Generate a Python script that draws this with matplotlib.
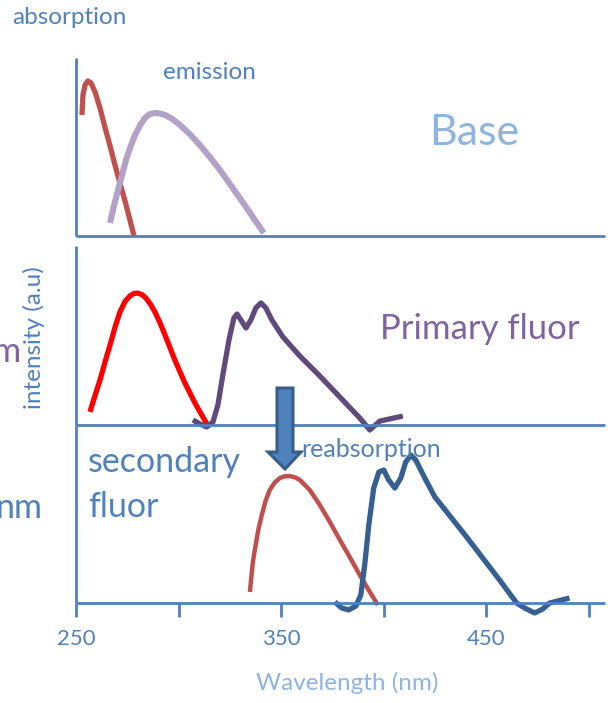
import matplotlib
matplotlib.use("Agg")
import matplotlib.pyplot as plt
from matplotlib.patches import Polygon

plt.rcParams['font.family'] = ['Lato', 'DejaVu Sans']

# ---------------- data (wavelength nm, normalised intensity) ----------------
base_abs_x = [252.9, 253.4, 254.4, 255.8, 257.3, 259.3, 261.7, 264.1, 266.6, 269.0, 271.4, 273.9, 276.3, 278.3]
base_abs_y = [0.680, 0.792, 0.848, 0.871, 0.860, 0.809, 0.719, 0.612, 0.506, 0.399, 0.298, 0.197, 0.090, 0.0]

base_em_x = [266.6, 268.5, 270.5, 272.5, 274.4, 276.6, 278.8, 281.2, 283.6, 286.0, 288.5, 291.0,
             293.4, 297.0, 300.7, 305.5, 310.4, 315.3, 320.2, 325.0, 329.9, 334.0, 337.2, 341.6]
base_em_y = [0.073, 0.170, 0.258, 0.345, 0.427, 0.503, 0.567, 0.621, 0.663, 0.685, 0.691, 0.688,
             0.680, 0.657, 0.624, 0.572, 0.511, 0.443, 0.371, 0.293, 0.213, 0.145, 0.090, 0.017]

prim_abs_x = [256.8, 259.2, 261.7, 264.1, 266.6, 269.0, 271.4, 273.9, 276.3, 278.3, 280.2, 282.2,
              284.1, 286.3, 288.5, 291.0, 293.4, 298.2, 303.1, 308.0, 313.8]
prim_abs_y = [0.073, 0.162, 0.251, 0.350, 0.447, 0.545, 0.631, 0.690, 0.721, 0.735, 0.737, 0.728,
              0.709, 0.675, 0.631, 0.570, 0.503, 0.363, 0.235, 0.123, 0.006]

prim_em_x = [307.0, 310.4, 313.8, 316.8, 319.2, 321.6, 324.6, 327.0, 328.5, 330.4, 332.9, 335.3,
             337.7, 340.2, 342.6, 345.5, 350.9, 359.2, 368.9, 378.7, 388.4, 393.3, 398.2, 409.4]
prim_em_y = [0.028, 0.006, -0.011, 0.017, 0.112, 0.279, 0.475, 0.598, 0.620, 0.587, 0.542, 0.587,
             0.654, 0.682, 0.654, 0.587, 0.492, 0.385, 0.274, 0.156, 0.039, -0.028, 0.022, 0.050]

sec_abs_x = [334.8, 336.2, 337.2, 338.9, 340.6, 342.5, 344.5, 347.0, 349.4, 351.8, 354.3, 356.8,
             359.2, 364.0, 368.9, 373.8, 378.7, 383.5, 388.4, 393.3, 397.2]
sec_abs_y = [0.062, 0.225, 0.298, 0.410, 0.494, 0.575, 0.635, 0.678, 0.702, 0.712, 0.713, 0.706,
             0.691, 0.635, 0.551, 0.455, 0.354, 0.258, 0.157, 0.062, -0.011]

sec_em_x = [376.2, 379.6, 383.0, 386.5, 388.9, 390.8, 392.8, 395.2, 397.7, 400.1, 402.5, 405.5, 408.4,
            410.8, 413.3, 415.7, 420.1, 425.0, 440.5, 456.6, 464.9, 468.8, 473.7, 477.6, 481.0, 490.7]
sec_em_y = [0.006, -0.028, -0.039, -0.017, 0.045, 0.213, 0.438, 0.646, 0.736, 0.747, 0.691, 0.646, 0.702,
            0.792, 0.831, 0.803, 0.702, 0.596, 0.371, 0.129, 0.000, -0.028, -0.056, -0.034, 0.000, 0.028]

x_ticks = [250, 300, 350, 400, 450, 500]
x_tick_labels = ['250', '', '350', '', '450', '']

# ---------------- styling ----------------
W, H = 615, 703
AXC = '#4F81BD'
LIGHT = '#8DB4E2'
PURPLE_T = '#8064A2'

fig = plt.figure(figsize=(W / 100, H / 100), dpi=100)


def fx(px):
    return px / W


def fy(py):
    return 1 - py / H


def make_ax(top, bottom):
    ax = fig.add_axes([fx(76), fy(bottom), fx(605) - fx(76), fy(top) - fy(bottom)])
    ax.set_xlim(250, 508)
    ax.set_ylim(0, 1)
    for s in ['top', 'right']:
        ax.spines[s].set_visible(False)
    for s in ['left', 'bottom']:
        ax.spines[s].set_color(AXC)
        ax.spines[s].set_linewidth(2.0)
        ax.spines[s].set_capstyle('butt')
    ax.set_yticks([])
    ax.patch.set_alpha(0)
    return ax


ax1 = make_ax(58, 236)
ax2 = make_ax(246, 425)
ax3 = make_ax(425, 603)
for ax in (ax1, ax2):
    ax.set_xticks([])

ax3.set_xticks(x_ticks)
ax3.set_xticklabels(x_tick_labels)
ax3.tick_params(axis='x', direction='out', length=10, width=2, color=AXC,
                labelcolor=AXC, labelsize=16, pad=9)

kw = dict(clip_on=False, solid_joinstyle='round', solid_capstyle='butt')
ax1.plot(base_abs_x, base_abs_y, color='#C0504D', lw=3.8, **kw)
ax1.plot(base_em_x, base_em_y, color='#B3A2C7', lw=4.4, **kw)
ax2.plot(prim_abs_x, prim_abs_y, color='#FF0000', lw=3.8, **kw)
ax2.plot(prim_em_x, prim_em_y, color='#604A7B', lw=3.8, **kw)
ax3.plot(sec_abs_x, sec_abs_y, color='#C0504D', lw=3.2, **kw)
ax3.plot(sec_em_x, sec_em_y, color='#376092', lw=3.8, **kw)

# arrow (reabsorption)
pts = [(277, 388), (293, 388), (293, 452), (301, 452), (285, 469), (268, 452), (277, 452)]
arrow = Polygon([(fx(x), fy(y)) for x, y in pts], closed=True, transform=fig.transFigure,
                facecolor='#4F81BD', edgecolor='#385D8A', lw=2.2, joinstyle='miter')
fig.add_artist(arrow)

# texts
fig.text(fx(12), fy(24), 'absorption', color=AXC, fontsize=17.5, va='baseline', ha='left')
fig.text(fx(163), fy(79), 'emission', color=AXC, fontsize=17.5, va='baseline', ha='left')
fig.text(fx(429), fy(145), 'Base', color=LIGHT, fontsize=31, va='baseline', ha='left')
fig.text(fx(380), fy(339), 'Primary fluor', color=PURPLE_T, fontsize=25, va='baseline', ha='left')
fig.text(fx(22), fy(362), 'nm', color=PURPLE_T, fontsize=25, va='baseline', ha='right')
fig.text(fx(34), fy(338), 'intensity (a.u)', color=AXC, fontsize=17.5, rotation=90,
         va='center', ha='center')
fig.text(fx(88), fy(472), 'secondary', color=AXC, fontsize=24.5, va='baseline', ha='left')
fig.text(fx(88), fy(517), 'fluor', color=AXC, fontsize=24.5, va='baseline', ha='left')
fig.text(fx(43), fy(518), 'nm', color=AXC, fontsize=24.5, va='baseline', ha='right')
fig.text(fx(301), fy(457), 'reabsorption', color=AXC, fontsize=18, va='baseline', ha='left')
fig.text(fx(347), fy(690), 'Wavelength (nm)', color=LIGHT, fontsize=17.5, va='baseline', ha='center')

fig.savefig('out.png', dpi=100)
